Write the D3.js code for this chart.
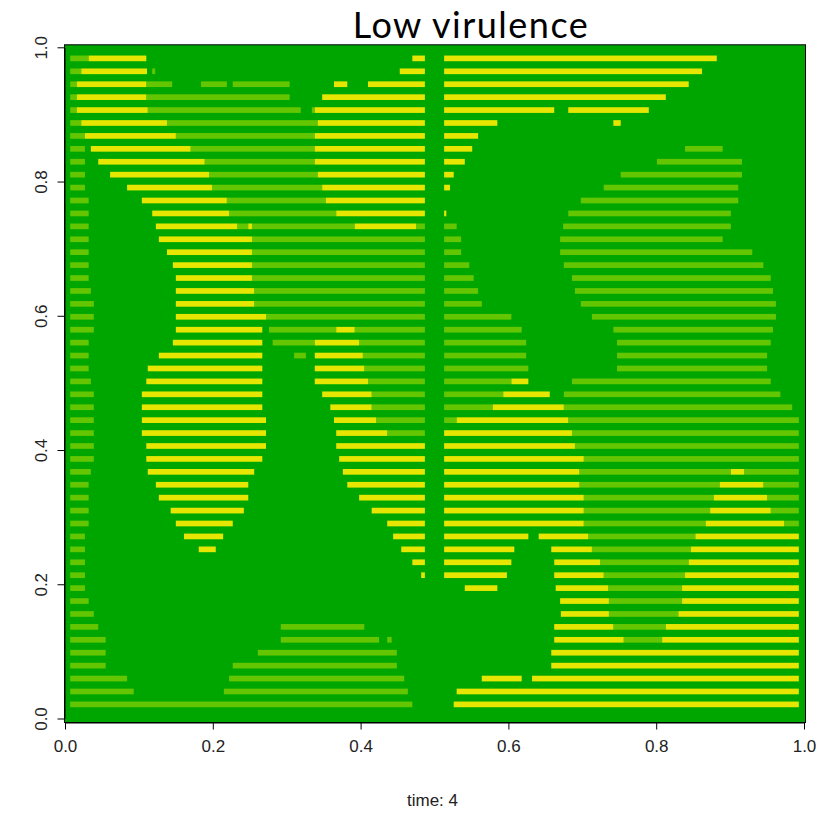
<!DOCTYPE html>
<html>
<head>
<meta charset="utf-8">
<script src="https://cdn.jsdelivr.net/npm/d3@7"></script>
<style>
  body { margin: 0; background: #fff; }
</style>
</head>
<body>
<div id="chart"></div>
<script>
// tick labels
const xTicks = [0, 0.2, 0.4, 0.6, 0.8, 1.0];
const yTicks = [0, 0.2, 0.4, 0.6, 0.8, 1.0];

// state colours (terrain palette)
const bgColour = "#00A600";
const lightColour = "#63C600";
const yellowColour = "#E6E600";

// one entry per host row (top to bottom): [start, end] along time
const lightRuns = [
  [[0.007,0.032]],
  [[0.007,0.022],[0.118,0.122]],
  [[0.007,0.016],[0.110,0.145],[0.184,0.219],[0.227,0.304]],
  [[0.007,0.016],[0.110,0.304]],
  [[0.007,0.016],[0.112,0.319],[0.334,0.338]],
  [[0.007,0.022],[0.138,0.342]],
  [[0.007,0.027],[0.150,0.338]],
  [[0.007,0.027],[0.170,0.338],[0.839,0.890]],
  [[0.007,0.027],[0.189,0.338],[0.801,0.916]],
  [[0.007,0.027],[0.195,0.342],[0.752,0.916]],
  [[0.007,0.027],[0.199,0.348],[0.729,0.911]],
  [[0.007,0.032],[0.219,0.353],[0.698,0.911]],
  [[0.007,0.032],[0.222,0.367],[0.681,0.901]],
  [[0.007,0.032],[0.233,0.248],[0.253,0.392],[0.475,0.487],[0.513,0.530],[0.674,0.901]],
  [[0.007,0.032],[0.253,0.487],[0.513,0.536],[0.670,0.890]],
  [[0.007,0.032],[0.253,0.487],[0.513,0.536],[0.670,0.930]],
  [[0.007,0.032],[0.253,0.487],[0.513,0.547],[0.675,0.945]],
  [[0.007,0.032],[0.253,0.487],[0.513,0.553],[0.686,0.955]],
  [[0.007,0.035],[0.256,0.487],[0.513,0.559],[0.690,0.958]],
  [[0.007,0.039],[0.256,0.487],[0.513,0.564],[0.698,0.962]],
  [[0.007,0.039],[0.272,0.487],[0.513,0.604],[0.713,0.962]],
  [[0.007,0.039],[0.276,0.367],[0.392,0.487],[0.513,0.618],[0.742,0.958]],
  [[0.007,0.032],[0.281,0.338],[0.398,0.487],[0.513,0.624],[0.747,0.955]],
  [[0.007,0.032],[0.310,0.326],[0.403,0.487],[0.513,0.624],[0.747,0.950]],
  [[0.007,0.032],[0.405,0.487],[0.513,0.627],[0.747,0.950]],
  [[0.007,0.035],[0.410,0.487],[0.513,0.604],[0.686,0.955]],
  [[0.007,0.039],[0.415,0.487],[0.513,0.593],[0.675,0.968]],
  [[0.007,0.039],[0.415,0.487],[0.513,0.579],[0.675,0.984]],
  [[0.007,0.039],[0.421,0.487],[0.513,0.530],[0.681,0.993]],
  [[0.007,0.039],[0.436,0.487],[0.686,0.993]],
  [[0.007,0.039],[0.690,0.993]],
  [[0.007,0.039],[0.702,0.993]],
  [[0.007,0.035],[0.696,0.901],[0.919,0.993]],
  [[0.007,0.032],[0.696,0.886],[0.945,0.993]],
  [[0.007,0.032],[0.702,0.878],[0.950,0.993]],
  [[0.007,0.032],[0.702,0.873],[0.955,0.993]],
  [[0.007,0.032],[0.702,0.867],[0.973,0.993]],
  [[0.007,0.027],[0.708,0.853]],
  [[0.007,0.027],[0.713,0.847]],
  [[0.007,0.027],[0.724,0.844]],
  [[0.007,0.027],[0.729,0.839]],
  [[0.007,0.027],[0.735,0.835]],
  [[0.007,0.032],[0.736,0.835]],
  [[0.007,0.039],[0.736,0.830]],
  [[0.007,0.045],[0.292,0.405],[0.742,0.813]],
  [[0.007,0.055],[0.292,0.425],[0.436,0.442],[0.756,0.808]],
  [[0.007,0.055],[0.261,0.449]],
  [[0.007,0.055],[0.227,0.449]],
  [[0.007,0.084],[0.222,0.459]],
  [[0.007,0.093],[0.215,0.464]],
  [[0.007,0.470]]
];

const yellowRuns = [
  [[0.032,0.110],[0.470,0.487],[0.513,0.882]],
  [[0.022,0.111],[0.453,0.487],[0.513,0.862]],
  [[0.016,0.110],[0.364,0.382],[0.410,0.487],[0.513,0.844]],
  [[0.016,0.110],[0.348,0.487],[0.513,0.813]],
  [[0.016,0.112],[0.338,0.487],[0.513,0.662],[0.681,0.790]],
  [[0.022,0.138],[0.342,0.487],[0.513,0.585],[0.742,0.752]],
  [[0.027,0.150],[0.338,0.487],[0.513,0.559]],
  [[0.035,0.170],[0.338,0.487],[0.513,0.551]],
  [[0.045,0.189],[0.338,0.487],[0.513,0.541]],
  [[0.061,0.195],[0.342,0.487],[0.513,0.526]],
  [[0.084,0.199],[0.348,0.487],[0.513,0.521]],
  [[0.104,0.219],[0.353,0.487]],
  [[0.118,0.222],[0.367,0.487],[0.513,0.516]],
  [[0.123,0.233],[0.248,0.253],[0.392,0.475]],
  [[0.127,0.253]],
  [[0.138,0.253]],
  [[0.146,0.253]],
  [[0.150,0.253]],
  [[0.150,0.256]],
  [[0.150,0.256]],
  [[0.150,0.272]],
  [[0.150,0.267],[0.367,0.392]],
  [[0.146,0.267],[0.338,0.398]],
  [[0.127,0.267],[0.338,0.403]],
  [[0.112,0.267],[0.338,0.405]],
  [[0.110,0.267],[0.338,0.410],[0.604,0.627]],
  [[0.104,0.267],[0.348,0.415],[0.593,0.656]],
  [[0.104,0.267],[0.359,0.415],[0.579,0.675]],
  [[0.104,0.272],[0.364,0.421],[0.530,0.681]],
  [[0.104,0.272],[0.367,0.436],[0.513,0.686]],
  [[0.110,0.272],[0.367,0.487],[0.513,0.690]],
  [[0.110,0.267],[0.371,0.487],[0.513,0.702]],
  [[0.112,0.256],[0.376,0.487],[0.513,0.696],[0.901,0.919]],
  [[0.123,0.248],[0.382,0.487],[0.513,0.696],[0.886,0.945]],
  [[0.127,0.248],[0.398,0.487],[0.513,0.702],[0.878,0.950]],
  [[0.143,0.242],[0.415,0.487],[0.513,0.702],[0.873,0.955]],
  [[0.150,0.227],[0.436,0.487],[0.513,0.702],[0.867,0.973]],
  [[0.161,0.214],[0.444,0.487],[0.513,0.627],[0.641,0.708],[0.853,0.993]],
  [[0.181,0.204],[0.455,0.487],[0.513,0.608],[0.658,0.713],[0.847,0.993]],
  [[0.470,0.487],[0.513,0.604],[0.662,0.724],[0.844,0.993]],
  [[0.482,0.487],[0.513,0.598],[0.662,0.729],[0.839,0.993]],
  [[0.541,0.585],[0.664,0.735],[0.835,0.993]],
  [[0.670,0.736],[0.835,0.993]],
  [[0.671,0.736],[0.830,0.993]],
  [[0.662,0.742],[0.813,0.993]],
  [[0.662,0.756],[0.808,0.993]],
  [[0.658,0.993]],
  [[0.658,0.993]],
  [[0.564,0.618],[0.632,0.993]],
  [[0.530,0.993]],
  [[0.526,0.993]]
];

const title = "Low virulence";
const xLabel = "time: 4";

function buildImage() {
    const width = 821;
    const height = 835;

    const xScale = d3.scaleLinear().domain([0, 1]).range([65, 804]);
    const yScale = d3.scaleLinear().domain([0, 1]).range([718.5, 47.3]);

    // rows as bands, top host first
    const rowScale = d3.scaleBand()
        .domain(d3.range(lightRuns.length))
        .range([yScale(0.9985), yScale(0.006)])
        .paddingInner(0.56)
        .paddingOuter(0.56);

    const svg = d3.select('#chart')
        .append('svg')
            .attr('width', width)
            .attr('height', height);

    // plot box / background
    const x0 = xScale.range()[0] - 1, x1 = xScale.range()[1] + 1;
    const y0 = yScale.range()[1] - 3, y1 = yScale.range()[0] + 3.5;
    svg.append('rect')
        .attr('x', x0 + 0.5)
        .attr('y', y0 + 0.5)
        .attr('width', x1 - x0)
        .attr('height', y1 - y0)
        .attr('fill', bgColour);

    function drawRuns(runs, colour) {
        const flat = [];
        runs.forEach((row, i) => row.forEach(r => flat.push({row: i, a: r[0], b: r[1]})));
        svg.append('g')
            .selectAll('rect')
            .data(flat)
            .enter()
            .append('rect')
                .attr('x', d => xScale(d.a))
                .attr('y', d => rowScale(d.row))
                .attr('width', d => xScale(d.b) - xScale(d.a))
                .attr('height', rowScale.bandwidth())
                .attr('fill', colour);
    }
    drawRuns(lightRuns, lightColour);
    drawRuns(yellowRuns, yellowColour);

    svg.append('rect')
        .attr('x', x0 + 0.5)
        .attr('y', y0 + 0.5)
        .attr('width', x1 - x0)
        .attr('height', y1 - y0)
        .attr('fill', 'none')
        .attr('stroke', '#000')
        .attr('stroke-width', 1);

    // x axis
    svg.append('g')
        .attr('transform', `translate(0, ${y1 + 0.5})`)
        .call(d3.axisBottom(xScale)
            .tickValues(xTicks)
            .tickFormat(d3.format('.1f'))
            .tickSize(7)
            .tickSizeOuter(0)
            .tickPadding(10));

    // y axis, labels rotated like base R
    const yAxis = svg.append('g')
        .attr('transform', `translate(${x0 + 0.5}, 0)`)
        .call(d3.axisLeft(yScale)
            .tickValues(yTicks)
            .tickFormat(d3.format('.1f'))
            .tickSize(7)
            .tickSizeOuter(0));

    yAxis.selectAll('.tick text')
        .attr('x', 0)
        .attr('y', 0)
        .attr('dy', 0)
        .attr('text-anchor', 'middle')
        .attr('transform', 'translate(-18, 0) rotate(-90)');

    svg.selectAll('.tick text')
        .style('font-family', '"Liberation Sans", Arial, sans-serif')
        .style('font-size', '17px')
        .attr('fill', '#222');
    svg.selectAll('.domain, .tick line').attr('stroke', '#000');

    // x label
    svg.append('text')
        .attr('x', (xScale(0) + xScale(1)) / 2 - 2)
        .attr('y', 806)
        .attr('text-anchor', 'middle')
        .attr('fill', '#222')
        .style('font-family', '"Liberation Sans", Arial, sans-serif')
        .style('font-size', '17px')
        .text(xLabel);

    // title
    svg.append('text')
        .attr('x', 471)
        .attr('y', 38)
        .attr('text-anchor', 'middle')
        .style('font-family', 'Lato, "Open Sans", sans-serif')
        .style('font-size', '36px')
        .style('letter-spacing', '1.5px')
        .text(title);
}

buildImage();
</script>
</body>
</html>
